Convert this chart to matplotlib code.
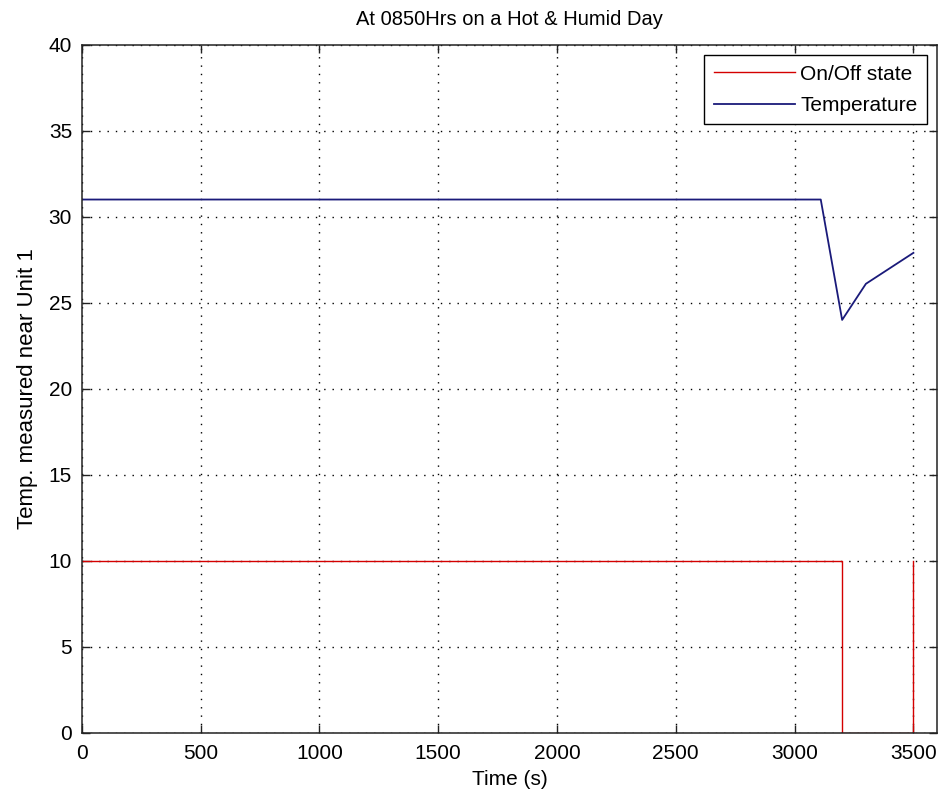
import matplotlib
matplotlib.use("Agg")
import matplotlib.pyplot as plt

plt.rcParams['font.family'] = ['Liberation Sans', 'DejaVu Sans']

# on/off state of the unit (scaled to 10)
state_t = [0, 3200, 3200, 3500, 3500]
state_v = [10, 10, 0, 0, 10]

# temperature near unit 1
temp_t = [0, 3110, 3200, 3300, 3500]
temp_v = [31, 31, 24, 26.1, 27.9]

xticks = [0, 500, 1000, 1500, 2000, 2500, 3000, 3500]
yticks = [0, 5, 10, 15, 20, 25, 30, 35, 40]

fig = plt.figure(figsize=(9.4, 7.99), dpi=100)
ax = fig.add_axes([0.087, 0.083, 0.91, 0.861])

ax.plot(state_t, state_v, color="#d40000", linewidth=1.0, label="On/Off state")
ax.plot(temp_t, temp_v, color="#1a1a7a", linewidth=1.3, label="Temperature")

ax.set_xlim(0, 3600)
ax.set_ylim(0, 40)
ax.set_xticks(xticks)
ax.set_yticks(yticks)
for s in ax.spines.values():
    s.set_linewidth(1.1)
    s.set_color('#222222')
    s.set_zorder(5)
ax.tick_params(axis='x', pad=8)
ax.tick_params(axis='y', pad=7)
ax.tick_params(direction='in', top=True, right=True, labelsize=15, length=6,
               width=1.0, color='#222222')
ax.grid(True, color='black', linestyle=(0, (1, 5)), linewidth=1.0)

ax.set_title("At 0850Hrs on a Hot & Humid Day", fontsize=14.5, pad=14)
ax.set_xlabel("Time (s)", fontsize=15, labelpad=5)
ax.set_ylabel("Temp. measured near Unit 1", fontsize=16, labelpad=8)

leg = ax.legend(loc='upper right', fontsize=15, fancybox=False, framealpha=1,
                edgecolor='black', handlelength=3.9, borderaxespad=0.5,
                handletextpad=0.25, labelspacing=0.6, borderpad=0.45)
leg.get_frame().set_linewidth(1.0)

fig.savefig("out.png", dpi=100)
